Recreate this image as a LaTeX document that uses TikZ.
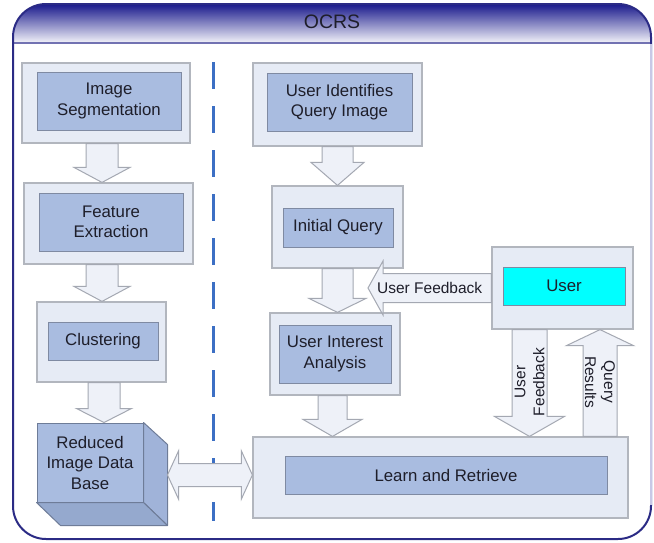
\documentclass[tikz,border=0pt]{standalone}
\usepackage{fontspec}
\setmainfont{Liberation Sans}
\usetikzlibrary{calc}
\definecolor{framedark}{HTML}{2B2B85}
\definecolor{framelight}{HTML}{C8C8E6}
\definecolor{hdtop}{HTML}{1A1A8C}
\definecolor{hdmid}{HTML}{9494CC}
\definecolor{hdbot}{HTML}{F4F4FA}
\definecolor{hdline}{HTML}{7272B2}
\definecolor{outerfill}{HTML}{E6EBF5}
\definecolor{outerdraw}{HTML}{B2B6BE}
\definecolor{innerfill}{HTML}{A9BCE0}
\definecolor{innerdraw}{HTML}{7F8AA2}
\definecolor{arrowfill}{HTML}{EEF1F8}
\definecolor{arrowdraw}{HTML}{A4A8B2}
\definecolor{cubeside}{HTML}{A0B3D9}
\definecolor{cubebottom}{HTML}{95A9CE}
\definecolor{cubedraw}{HTML}{6E7C98}
\definecolor{divblue}{HTML}{3C6FC4}
\definecolor{usercyan}{HTML}{00FFFF}
\definecolor{txt}{HTML}{1E1E2A}
\newcommand{\bodyfont}{\fontsize{16.8}{20.5}\selectfont}
\newcommand{\labelfont}{\fontsize{15.5}{19}\selectfont}
% vertical block arrow: from, to, x centre, shaft half, head half, head length (signed)
\newcommand{\vblock}[6]{%
  \path[blockarrow] let \p1=(#1), \p2=(#2) in
   ({#3pt-#4pt},{\y1}) -- ({#3pt+#4pt},{\y1}) -- ({#3pt+#4pt},{\y2+(#6pt)}) -- ({#3pt+#5pt},{\y2+(#6pt)})
   -- ({#3pt},{\y2}) -- ({#3pt-#5pt},{\y2+(#6pt)}) -- ({#3pt-#4pt},{\y2+(#6pt)}) -- cycle;}
% horizontal block arrow: from, to, shaft half, head half, head length (signed)
\newcommand{\hblock}[5]{%
  \path[blockarrow] let \p1=(#1), \p2=(#2) in
   ({\x1},{\y1-#3pt}) -- ({\x2+(#5pt)},{\y1-#3pt}) -- ({\x2+(#5pt)},{\y1-#4pt}) -- ({\x2},{\y1})
   -- ({\x2+(#5pt)},{\y1+#4pt}) -- ({\x2+(#5pt)},{\y1+#3pt}) -- ({\x1},{\y1+#3pt}) -- cycle;}
\begin{document}
\begin{tikzpicture}[x=1pt,y=-1pt,
  outerbox/.style={draw=outerdraw, fill=outerfill, line width=1.2pt, inner sep=0pt},
  innerbox/.style={draw=innerdraw, fill=innerfill, line width=1pt, inner sep=0pt,
    align=center, font=\bodyfont, text=txt},
  blockarrow/.style={draw=arrowdraw, fill=arrowfill, line width=1pt, line join=miter},
  arrowtext/.style={font=\labelfont, text=txt, align=center, inner sep=0pt},
  divider/.style={draw=divblue, line width=3pt, dash pattern=on 27pt off 17pt}]
\useasboundingbox (0,0) rectangle (654,542);

% ---- frame ----
\fill[white, rounded corners=33pt] (13,4) rectangle (651,539);
\begin{scope}
  \clip[rounded corners=33pt] (13,4) rectangle (651,539);
  \shade[top color=hdtop, middle color=hdmid, bottom color=hdbot] (13,4) rectangle (651,43);
\end{scope}
\draw[hdline, line width=2pt] (13,43) -- (651,43);
\draw[framedark, line width=2pt, rounded corners=33pt] (13,4) rectangle (651,539);
\draw[framelight, line width=2.6pt] (651,44) -- (651,505);
\node[font=\fontsize{19.5}{22}\selectfont, text=txt] (title) at (332,22) {OCRS};

% ---- divider ----
\coordinate (dtop) at (213,62);
\coordinate (dbot) at (213,521);
\draw[divider] (dtop) -- (dbot);

% ---- left column ----
\node[outerbox, minimum width=168pt, minimum height=80pt] (segO) at (106,103) {};
\node[innerbox, minimum width=144pt, minimum height=58pt] (segI) at (109,101) {Image\\Segmentation};
\node[outerbox, minimum width=169pt, minimum height=81pt] (featO) at (108.5,223.5) {};
\node[innerbox, minimum width=144pt, minimum height=58pt] (featI) at (111,222) {Feature\\Extraction};
\node[outerbox, minimum width=129pt, minimum height=80pt] (clusO) at (101.5,342) {};
\node[innerbox, minimum width=110pt, minimum height=38pt] (clusI) at (103,341) {Clustering};

% cube
\node[draw=cubedraw, fill=innerfill, line width=1pt, minimum width=106pt, minimum height=79pt,
  inner sep=0pt, align=center, font=\bodyfont, text=txt] (db) at (90,462.5) {Reduced\\Image Data\\Base};
\draw[draw=cubedraw, fill=cubeside, line width=1pt, line join=round]
  (db.north east) -- ++(24,22) -- ($(db.south east)+(24,23)$) -- (db.south east) -- cycle;
\draw[draw=cubedraw, fill=cubebottom, line width=1pt, line join=round]
  (db.south west) -- (db.south east) -- ++(24,23) -- ($(db.south west)+(24,23)$) -- cycle;
\coordinate (dbE) at ($(db.east)+(24,0)$);

% ---- right column ----
\node[outerbox, minimum width=169pt, minimum height=83pt] (uiqO) at (337.5,104.5) {};
\node[innerbox, minimum width=145pt, minimum height=58pt] (uiqI) at (339.5,102) {User Identifies\\Query Image};
\node[outerbox, minimum width=131pt, minimum height=82pt] (iqO) at (337.5,227) {};
\node[innerbox, minimum width=110pt, minimum height=39pt] (iqI) at (338,227.5) {Initial Query};
\node[outerbox, minimum width=130pt, minimum height=82pt] (uiaO) at (335,354) {};
\node[innerbox, minimum width=112pt, minimum height=58pt] (uiaI) at (335,354) {User Interest\\Analysis};
\node[outerbox, minimum width=375pt, minimum height=81pt] (lrO) at (440.5,477.5) {};
\node[innerbox, minimum width=322pt, minimum height=38pt] (lrI) at (446,475) {Learn and Retrieve};
\node[outerbox, minimum width=141pt, minimum height=82pt] (userO) at (562.5,288) {};
\node[innerbox, fill=usercyan, minimum width=122pt, minimum height=38pt] (userI) at (564,286) {User};

% ---- block arrows ----
\vblock{segO.south}{featO.north}{102}{16}{28}{15}
\vblock{featO.south}{clusO.north}{102}{16}{28}{15}
\vblock{clusO.south}{db.north}{104}{16}{27.5}{14}
\vblock{uiqO.south}{iqO.north}{337.5}{15.5}{26.5}{23}
\vblock{iqO.south}{uiaO.north}{337.5}{15.5}{28.5}{14}
\vblock{uiaO.south}{lrO.north}{332.5}{14.5}{29.5}{17}
\vblock{userO.south}{lrO.north}{529.5}{17.5}{35}{20}
\vblock{lrO.north}{userO.south}{600}{17}{33.5}{-16}

\coordinate (ufTip) at (368,288);
\hblock{userO.west}{ufTip}{14.5}{27}{15}
\node[arrowtext] (ufText) at ($(userO.west)!0.5!(ufTip)$) {User Feedback};

% double arrow between database and Learn and Retrieve
\path[blockarrow] let \p1=(dbE), \p2=(lrO.west) in
  ({\x1},{\y2+2.5pt}) -- ({\x1+11pt},{\y2+26.5pt}) -- ({\x1+11pt},{\y2+14pt}) -- ({\x2-11pt},{\y2+14pt})
  -- ({\x2-11pt},{\y2+26.5pt}) -- ({\x2},{\y2+2.5pt}) -- ({\x2-11pt},{\y2-21.5pt}) -- ({\x2-11pt},{\y2-9pt})
  -- ({\x1+11pt},{\y2-9pt}) -- ({\x1+11pt},{\y2-21.5pt}) -- cycle;

% rotated labels
\node[arrowtext, rotate=90] (vfText) at (529.5,382) {User\\Feedback};
\node[arrowtext, rotate=-90] (qrText) at (600,382) {Query\\Results};
\end{tikzpicture}
\end{document}
